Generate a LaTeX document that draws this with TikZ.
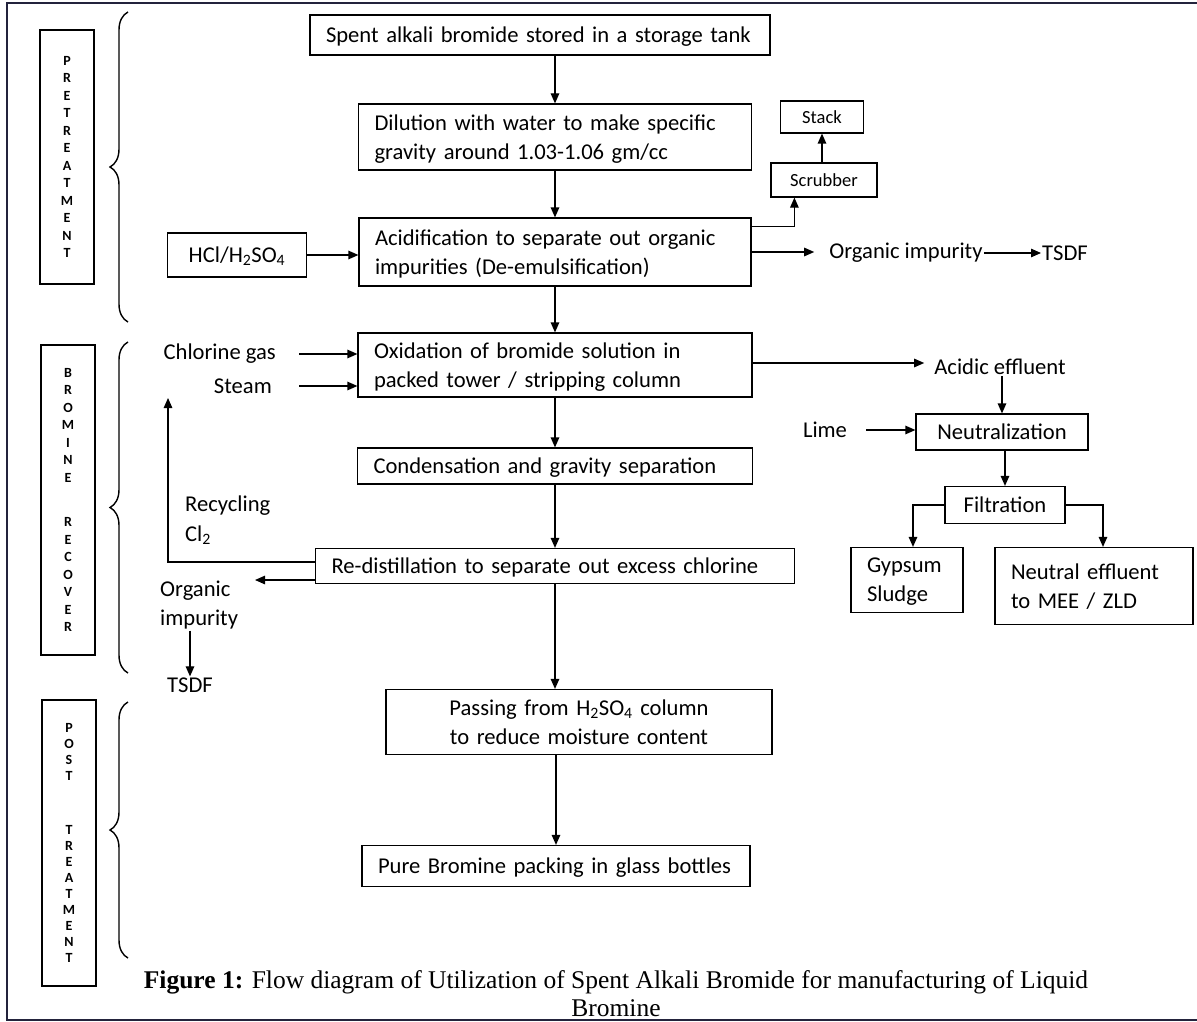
\documentclass[tikz,border=0pt]{standalone}
\usepackage{fontspec}
\setmainfont{Carlito}
\newfontfamily\capfont{Liberation Serif}
\usetikzlibrary{arrows.meta,decorations.pathreplacing,positioning}
\definecolor{framecol}{RGB}{35,35,60}

\begin{document}
\begin{tikzpicture}[x=1pt,y=-1pt,
    box/.style={draw, line width=1.2pt, inner xsep=16pt, inner ysep=0pt, text depth=0pt, align=left, font=\fontsize{22.6}{29}\selectfont},
    twoline/.style={box, text depth=29pt},
    pbox/.style={draw, line width=1.2pt, inner sep=0pt, text depth=0pt, font=\fontsize{22.6}{29}\selectfont},
    sbox/.style={draw, line width=1.2pt, inner sep=0pt, font=\fontsize{18.5}{22}\selectfont},
    lbl/.style={inner sep=1pt, font=\fontsize{22.6}{29.5}\selectfont},
    side/.style={draw, line width=1.2pt, minimum width=54pt, inner sep=0pt, align=center, font=\bfseries\fontsize{14}{17.5}\selectfont},
    brc/.style={decorate, decoration={brace, amplitude=18pt}, line width=1.4pt},
    arr/.style={-{Triangle[length=10pt,width=8.5pt]}, line width=1.2pt}]
  \useasboundingbox (0,0) rectangle (1197,1022);
  \draw[line width=1.6pt, framecol] (1197,3) -- (7,3) -- (7,1020) -- (1197,1020);

  % stage labels
  \node[side, minimum height=254pt] (pre) at (67,157) {P\\R\\E\\T\\R\\E\\A\\T\\M\\E\\N\\T};
  \node[side, minimum height=310pt] (brec) at (68,500) {B\\R\\O\\M\\I\\N\\E\\[27pt]R\\E\\C\\O\\V\\E\\R};
  \node[side, minimum height=286pt, font=\bfseries\fontsize{14}{16}\selectfont] (post) at (69,843) {P\\O\\S\\T\\[38pt]T\\R\\E\\A\\T\\M\\E\\N\\T};
  \draw[brc] (128,322) -- (128,12);
  \draw[brc] (128,673) -- (128,342);
  \draw[brc] (128,958) -- (128,702);

  % main line
  \node[box, text width=428pt, minimum height=40pt] (tank) at (540,35) {Spent alkali bromide stored in a storage tank};
  \node[twoline, text width=361pt, minimum height=66pt] (dil) at (555,137) {Dilution with water to make specific\\gravity around 1.03-1.06 gm/cc};
  \node[twoline, text width=360pt, minimum height=68pt] (acid) at (555,252) {Acidification to separate out organic\\impurities (De-emulsification)};
  \node[twoline, text width=362pt, minimum height=64pt] (oxid) at (555,365) {Oxidation of bromide solution in\\packed tower / stripping column};
  \node[box, text width=363pt, minimum height=36pt] (cond) at (555,466) {Condensation and gravity separation};
  \node[box, text width=447pt, minimum height=35pt] (redist) at (555,566) {Re-distillation to separate out excess chlorine};
  \node[twoline, align=center, text width=354pt, minimum height=65pt] (pass) at (579,722) {Passing from H\textsubscript{2}SO\textsubscript{4} column\\to reduce moisture content};
  \node[box, text width=356pt, minimum height=41pt] (pure) at (556,866) {Pure Bromine packing in glass bottles};

  % inputs and side streams
  \node[box, align=center, text width=107pt, minimum height=44pt] (hcl) at (237,255) {HCl/H\textsubscript{2}SO\textsubscript{4}};
  \node[sbox, minimum width=83pt, minimum height=32pt] (stack) at (822,117) {Stack};
  \node[sbox, minimum width=106pt, minimum height=34pt] (scrub) at (824,180) {Scrubber};
  \node[lbl] (orgA) at (906,253) {Organic impurity};
  \node[lbl] (tsdfA) at (1065,253) {TSDF};
  \node[lbl, anchor=east] (cl) at (277,354) {Chlorine gas};
  \node[lbl, anchor=east] (steam) at (273,386) {Steam};
  \node[lbl, anchor=west, align=left] (rec) at (184,520) {Recycling\\Cl\textsubscript{2}};
  \node[lbl, anchor=west, align=left] (orgB) at (159,605) {Organic\\impurity};
  \node[lbl] (tsdfB) at (190,685) {TSDF};
  \coordinate (recTop) at (168,398);
  \coordinate (orgTip) at (255,580);

  % effluent treatment
  \node[lbl] (acidE) at (1000,367) {Acidic effluent};
  \node[lbl] (lime) at (825,430) {Lime};
  \node[pbox, minimum width=172pt, minimum height=36pt] (neut) at (1002,432) {Neutralization};
  \node[pbox, minimum width=120pt, minimum height=37pt] (filt) at (1005,505) {Filtration};
  \node[twoline, text width=80pt, minimum height=65pt] (gyp) at (907,580) {Gypsum\\Sludge};
  \node[twoline, text width=166pt, minimum height=77pt] (neutE) at (1094,586) {Neutral effluent\\to MEE / ZLD};

  \draw[arr] (tank.south -| dil.north) -- (dil.north);
  \draw[arr] (dil) -- (acid);
  \draw[arr] (acid) -- (oxid);
  \draw[arr] (oxid) -- (cond);
  \draw[arr] (cond) -- (redist);
  \draw[arr] (redist.south) -- (redist.south |- pass.north);
  \draw[arr] (pass.south -| pure.north) -- (pure.north);

  \draw[arr] ([yshift=-9pt]acid.north east) -| ([xshift=24pt]scrub.south west);
  \draw[arr] (scrub.north -| stack.south) -- (stack.south);
  \draw[arr, shorten >=14pt] (acid.east) -- (acid.east -| orgA.west);
  \draw[arr] (orgA.east) -- (tsdfA.west);
  \draw[arr] (hcl.east) -- (hcl.east -| acid.west);
  \draw[arr] ([xshift=22pt]cl.east) -- (cl.east -| oxid.west);
  \draw[arr] ([xshift=26pt]steam.east) -- (steam.east -| oxid.west);
  \draw[arr] ([yshift=4pt]redist.west) -| (recTop);
  \draw[arr] ([yshift=-14pt]redist.west) -- (orgTip);
  \draw[arr] (tsdfB.north |- orgB.south) -- (tsdfB.north);

  \draw[arr, shorten >=9pt] ([yshift=2pt]oxid.east) -- ([yshift=2pt]oxid.east -| acidE.west);
  \draw[arr] (acidE.south -| neut.north) -- (neut.north);
  \draw[arr, shorten <=18pt] (lime.east) -- (lime.east -| neut.west);
  \draw[arr] (neut.south -| filt.north) -- (filt.north);
  \draw[arr] (filt.west) -| ([xshift=6pt]gyp.north);
  \draw[arr] (filt.east) -| ([xshift=9pt]neutE.north);

  \node[font=\capfont\fontsize{25.5}{28}\selectfont, align=center] (cap) at (616,994) {\textbf{Figure 1:} Flow diagram of Utilization of Spent Alkali Bromide for manufacturing of Liquid\\Bromine};
\end{tikzpicture}
\end{document}
